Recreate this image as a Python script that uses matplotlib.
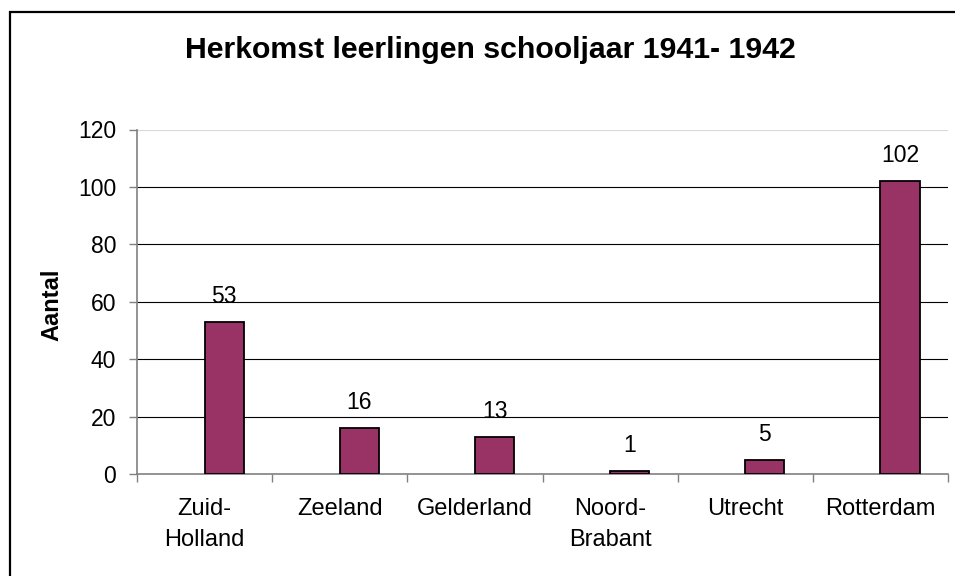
import matplotlib
matplotlib.use("Agg")
import matplotlib.pyplot as plt
from matplotlib.patches import Rectangle

categories = ["Zuid-\nHolland", "Zeeland", "Gelderland", "Noord-\nBrabant", "Utrecht", "Rotterdam"]
values = [53, 16, 13, 1, 5, 102]
yticks = [0, 20, 40, 60, 80, 100, 120]
title = "Herkomst leerlingen schooljaar 1941- 1942"
ylabel = "Aantal"

plt.rcParams['font.family'] = ['Liberation Sans', 'DejaVu Sans']

W, H = 955, 576
fig = plt.figure(figsize=(W / 100, H / 100), dpi=100)
fig.patch.set_facecolor("white")

# outer chart border (extends past right/bottom edges)
fig.patches.append(Rectangle((9.5 / W, -0.1), 1.2, 1 - 12 / H + 0.1,
                             transform=fig.transFigure, fill=False,
                             edgecolor="black", linewidth=1.6, zorder=0))

left, right, top, bottom = 137, 948, 129.5, 474
ax = fig.add_axes([left / W, 1 - bottom / H, (right - left) / W, (bottom - top) / H])

n = len(categories)
centers = [i + 0.5 for i in range(n)]
bw = 0.29
bars = ax.bar(centers, values, width=bw, align="edge", color="#993366",
              edgecolor="black", linewidth=1.3, zorder=3)

for c, v in zip(centers, values):
    ax.annotate(str(v), (c + bw / 2, v), xytext=(0, 10), textcoords="offset points",
                ha="center", va="bottom", fontsize=16.5, color="black", zorder=4)

ax.set_xlim(0, n)
ax.set_ylim(0, 120)

# gridlines
for y in yticks[1:]:
    ax.axhline(y, color="black" if y < 120 else "#d8d8d8", linewidth=0.8, zorder=1)

ax.set_yticks(yticks)
ax.set_yticklabels([str(t) for t in yticks], fontsize=16.5)
ax.set_xticks(range(n + 1))
ax.set_xticklabels([""] * (n + 1))
ax.set_xticks(centers, minor=True)
ax.set_xticklabels(categories, minor=True, fontsize=17, linespacing=1.55)
ax.tick_params(axis="x", which="minor", length=0, pad=17)
ax.tick_params(axis="x", which="major", length=6, width=1, color="#808080", direction="out")
ax.tick_params(axis="y", length=6, width=1, color="#808080", direction="out", pad=9)

for s in ["top", "right"]:
    ax.spines[s].set_visible(False)
for s in ["left", "bottom"]:
    ax.spines[s].set_color("#808080")
    ax.spines[s].set_linewidth(1.2)

fig.text(52 / W, 1 - 305 / H, ylabel, rotation=90, fontsize=17, fontweight="bold",
         ha="center", va="center")
fig.text(490 / W, 1 - 50 / H, title, fontsize=21.8, fontweight="bold",
         ha="center", va="center")

fig.savefig("out.png", dpi=100, facecolor="white")
